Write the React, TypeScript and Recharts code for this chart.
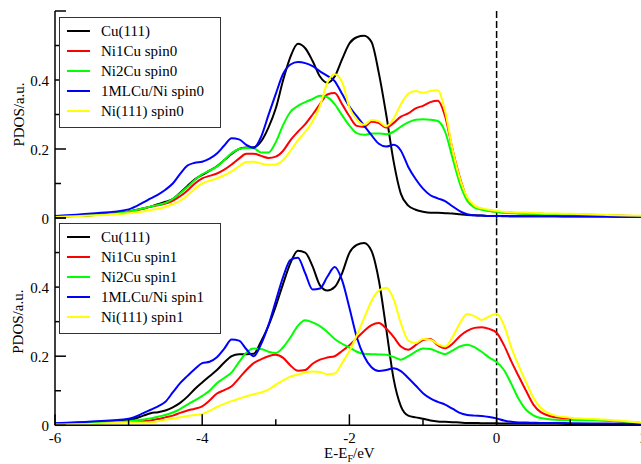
import { LineChart, Line, XAxis, YAxis, ReferenceLine, Legend } from 'recharts';

// energy grid (eV, relative to Fermi level)
const energy = [
  -6, -5.5, -5, -4.8, -4.7, -4.6, -4.5, -4.4, -4.3, -4.2,
  -4.1, -4, -3.9, -3.8, -3.7, -3.6, -3.5, -3.4, -3.3, -3.2,
  -3.1, -3, -2.9, -2.8, -2.7, -2.6, -2.5, -2.4, -2.3, -2.2,
  -2.1, -2, -1.9, -1.8, -1.7, -1.6, -1.5, -1.4, -1.3, -1.2,
  -1.1, -1, -0.9, -0.8, -0.7, -0.6, -0.5, -0.4, -0.3, -0.2,
  -0.1, 0, 0.1, 0.2, 0.3, 0.4, 0.5, 0.6, 0.8, 1,
  1.5, 2,
];

// spin0 panel
const cuUp = [
  0.004, 0.009, 0.019, 0.028, 0.033, 0.04, 0.047, 0.055, 0.073, 0.093,
  0.112, 0.125, 0.137, 0.15, 0.168, 0.186, 0.2, 0.204, 0.205, 0.222,
  0.262, 0.318, 0.4, 0.468, 0.505, 0.492, 0.455, 0.41, 0.392, 0.41,
  0.46, 0.506, 0.524, 0.528, 0.51, 0.42, 0.3, 0.165, 0.07, 0.036,
  0.024, 0.018, 0.015, 0.015, 0.014, 0.013, 0.011, 0.009, 0.008, 0.007,
  0.006, 0.006, 0.006, 0.005, 0.005, 0.005, 0.005, 0.005, 0.005, 0.004,
  0.004, 0.003,
];
const ni1Up = [
  0.004, 0.008, 0.018, 0.027, 0.033, 0.037, 0.042, 0.05, 0.063, 0.08,
  0.1, 0.115, 0.122, 0.129, 0.14, 0.155, 0.172, 0.186, 0.186, 0.18,
  0.174, 0.178, 0.195, 0.226, 0.25, 0.272, 0.3, 0.33, 0.358, 0.362,
  0.33, 0.295, 0.267, 0.264, 0.279, 0.275, 0.262, 0.275, 0.294, 0.303,
  0.318, 0.325, 0.336, 0.34, 0.295, 0.2, 0.118, 0.056, 0.033, 0.026,
  0.021, 0.018, 0.016, 0.015, 0.014, 0.013, 0.013, 0.012, 0.011, 0.01,
  0.008, 0.005,
];
const ni2Up = [
  0.004, 0.008, 0.018, 0.028, 0.033, 0.038, 0.044, 0.055, 0.072, 0.09,
  0.11, 0.127, 0.137, 0.149, 0.168, 0.188, 0.2, 0.203, 0.202, 0.19,
  0.19, 0.22, 0.27, 0.308, 0.325, 0.336, 0.345, 0.354, 0.35, 0.33,
  0.298, 0.268, 0.246, 0.241, 0.245, 0.245, 0.243, 0.25, 0.265, 0.277,
  0.285, 0.286, 0.285, 0.281, 0.25, 0.175, 0.1, 0.05, 0.03, 0.024,
  0.02, 0.018, 0.015, 0.014, 0.013, 0.012, 0.012, 0.011, 0.01, 0.009,
  0.007, 0.005,
];
const mlUp = [
  0.006, 0.013, 0.025, 0.045, 0.057, 0.068, 0.082, 0.1, 0.128, 0.152,
  0.16, 0.163, 0.172, 0.187, 0.21, 0.231, 0.228, 0.212, 0.203, 0.235,
  0.298, 0.36, 0.418, 0.445, 0.452, 0.449, 0.44, 0.425, 0.412, 0.397,
  0.36, 0.323, 0.295, 0.268, 0.24, 0.215, 0.207, 0.212, 0.195, 0.148,
  0.113, 0.085, 0.066, 0.057, 0.049, 0.034, 0.02, 0.011, 0.008, 0.007,
  0.006, 0.006, 0.005, 0.005, 0.005, 0.005, 0.005, 0.005, 0.005, 0.005,
  0.004, 0.003,
];
const niUp = [
  0.003, 0.007, 0.014, 0.019, 0.023, 0.027, 0.032, 0.04, 0.05, 0.065,
  0.085, 0.1, 0.108, 0.115, 0.124, 0.135, 0.15, 0.162, 0.163, 0.158,
  0.154, 0.155, 0.168, 0.195, 0.225, 0.25, 0.28, 0.325, 0.392, 0.417,
  0.395, 0.32, 0.285, 0.27, 0.284, 0.28, 0.266, 0.288, 0.33, 0.36,
  0.368, 0.363, 0.368, 0.37, 0.31, 0.2, 0.115, 0.06, 0.036, 0.028,
  0.024, 0.021, 0.018, 0.017, 0.016, 0.016, 0.015, 0.014, 0.013, 0.012,
  0.009, 0.006,
];

// spin1 panel
const cuDn = [
  0.005, 0.009, 0.015, 0.028, 0.035, 0.038, 0.043, 0.052, 0.065, 0.083,
  0.105, 0.124, 0.142, 0.16, 0.182, 0.2, 0.206, 0.206, 0.207, 0.243,
  0.288, 0.345, 0.41, 0.47, 0.505, 0.5, 0.46, 0.405, 0.39, 0.4,
  0.44, 0.499, 0.522, 0.528, 0.505, 0.42, 0.28, 0.135, 0.055, 0.028,
  0.023, 0.019, 0.014, 0.011, 0.01, 0.009, 0.008, 0.007, 0.007, 0.006,
  0.006, 0.006, 0.005, 0.005, 0.005, 0.005, 0.005, 0.005, 0.005, 0.004,
  0.004, 0.003,
];
const ni1Dn = [
  0.003, 0.006, 0.01, 0.012, 0.014, 0.018, 0.023, 0.028, 0.036, 0.043,
  0.048, 0.055, 0.072, 0.092, 0.102, 0.113, 0.136, 0.16, 0.18, 0.191,
  0.2, 0.204, 0.195, 0.173, 0.158, 0.16, 0.178, 0.19, 0.196, 0.2,
  0.215, 0.232, 0.252, 0.273, 0.29, 0.296, 0.28, 0.256, 0.228, 0.219,
  0.232, 0.247, 0.25, 0.232, 0.223, 0.236, 0.258, 0.273, 0.282, 0.284,
  0.279, 0.268, 0.232, 0.185, 0.142, 0.1, 0.06, 0.038, 0.023, 0.019,
  0.014, 0.006,
];
const ni2Dn = [
  0.004, 0.007, 0.012, 0.017, 0.02, 0.025, 0.03, 0.037, 0.047, 0.06,
  0.072, 0.085, 0.1, 0.122, 0.137, 0.153, 0.183, 0.21, 0.222, 0.221,
  0.213, 0.209, 0.226, 0.255, 0.288, 0.304, 0.298, 0.287, 0.27, 0.25,
  0.236, 0.225, 0.213, 0.207, 0.206, 0.205, 0.204, 0.198, 0.19, 0.2,
  0.213, 0.222, 0.221, 0.213, 0.206, 0.216, 0.228, 0.233, 0.226, 0.212,
  0.196, 0.183, 0.16, 0.12, 0.076, 0.045, 0.029, 0.021, 0.016, 0.015,
  0.013, 0.006,
];
const mlDn = [
  0.006, 0.011, 0.019, 0.035, 0.045, 0.055, 0.068, 0.095, 0.122, 0.143,
  0.163, 0.18, 0.184, 0.197, 0.222, 0.248, 0.245, 0.22, 0.2, 0.235,
  0.29, 0.36, 0.43, 0.479, 0.485, 0.44, 0.393, 0.396, 0.43, 0.458,
  0.42, 0.34, 0.255, 0.2, 0.168, 0.157, 0.16, 0.165, 0.157, 0.137,
  0.115, 0.093, 0.078, 0.068, 0.06, 0.048, 0.036, 0.03, 0.028, 0.027,
  0.024, 0.02, 0.014, 0.01, 0.008, 0.008, 0.0075, 0.007, 0.007, 0.006,
  0.005, 0.004,
];
const niDn = [
  0.002, 0.004, 0.008, 0.008, 0.009, 0.012, 0.016, 0.019, 0.023, 0.027,
  0.03, 0.033, 0.042, 0.053, 0.062, 0.07, 0.077, 0.084, 0.09, 0.095,
  0.103, 0.118, 0.13, 0.141, 0.147, 0.152, 0.156, 0.154, 0.148, 0.15,
  0.18, 0.215, 0.26, 0.31, 0.36, 0.39, 0.398, 0.365, 0.295, 0.245,
  0.238, 0.25, 0.248, 0.235, 0.228, 0.255, 0.295, 0.322, 0.316, 0.305,
  0.315, 0.323, 0.29, 0.225, 0.173, 0.125, 0.08, 0.05, 0.028, 0.022,
  0.016, 0.007,
];

const names0 = ['Cu(111)', 'Ni1Cu spin0', 'Ni2Cu spin0', '1MLCu/Ni spin0', 'Ni(111) spin0'];
const names1 = ['Cu(111)', 'Ni1Cu spin1', 'Ni2Cu spin1', '1MLCu/Ni spin1', 'Ni(111) spin1'];
const colors = ['#000000', '#ff0000', '#00ff00', '#0000ff', '#ffff00'];

const xTicks = [-6, -5, -4, -3, -2, -1, 0, 1, 2];
const yTicks = [0, 0.1, 0.2, 0.3, 0.4, 0.5, 0.6];

const FONT = '"Liberation Serif", "Times New Roman", Times, "DejaVu Serif", serif';
const AXIS = { stroke: '#000', strokeWidth: 1.5 };
const TXT = { fontFamily: FONT, fontSize: 15 };

function buildRows(series: number[][]) {
  return energy.map((e, i) => {
    const r: Record<string, number> = { e };
    series.forEach((s, k) => (r['s' + k] = s[i]));
    return r;
  });
}

// x ticks drawn inward; dir = -1 points up, +1 points down
const xTick = (dir: number, labels: boolean) => (props: any) => {
  const { x, y, payload } = props;
  const v = payload.value;
  const major = Math.round(v) % 2 === 0;
  return (
    <g>
      <line x1={x} x2={x} y1={y} y2={y + dir * (major ? 11 : 6)} stroke="#000" strokeWidth={1.5} />
      {labels && major ? (
        <text x={x} y={y + 18} textAnchor="middle" style={TXT} fill="#000">
          {v}
        </text>
      ) : null}
    </g>
  );
};

const yTick = (dir: number, labels: boolean) => (props: any) => {
  const { x, y, payload } = props;
  const v = payload.value;
  const major = Math.round(v * 10) % 2 === 0;
  return (
    <g>
      <line x1={x} x2={x + dir * (major ? 11 : 6)} y1={y} y2={y} stroke="#000" strokeWidth={1.5} />
      {labels && major && v < 0.55 ? (
        <text x={x - 6} y={y + 5.5} textAnchor="end" style={TXT} fill="#000">
          {v === 0 ? '0' : v.toFixed(1)}
        </text>
      ) : null}
    </g>
  );
};

function LegendBox({ names }: { names: string[] }) {
  return (
    <div
      style={{
        boxSizing: 'border-box',
        width: 162,
        height: 111,
        border: '1.5px solid #333',
        background: '#fff',
        paddingTop: 3,
      }}
    >
      {names.map((n, k) => (
        <div key={n} style={{ display: 'flex', alignItems: 'center', height: 20 }}>
          <svg width={30} height={20} style={{ display: 'block' }}>
            <line x1={7} x2={30} y1={10} y2={10} stroke={colors[k]} strokeWidth={2} />
          </svg>
          <span style={{ marginLeft: 11, fontFamily: FONT, fontSize: 15, lineHeight: '20px', color: '#000', whiteSpace: 'nowrap' }}>
            {n}
          </span>
        </div>
      ))}
    </div>
  );
}

const yTitle = (props: any) => {
  const vb = props.viewBox;
  const cy = vb.y + vb.height / 2;
  return (
    <text x={23.5} y={cy} transform={`rotate(-90, 23.5, ${cy})`} textAnchor="middle" style={TXT} fill="#000">
      PDOS/a.u.
    </text>
  );
};

const xTitle = (props: any) => {
  const vb = props.viewBox;
  return (
    <text x={vb.x + vb.width / 2} y={vb.y + 33} textAnchor="middle" style={TXT} fill="#000">
      E-E<tspan fontSize={10} dy={4}>F</tspan>
      <tspan dy={-4}>/eV</tspan>
    </text>
  );
};

interface PanelProps {
  series: number[][];
  names: string[];
  height: number;
  margin: { top: number; right: number; bottom: number; left: number };
  bottomAxisHeight: number;
  showXLabels: boolean;
  legendTop: number;
}

function Panel({ series, names, height, margin, bottomAxisHeight, showXLabels, legendTop }: PanelProps) {
  const data = buildRows(series);
  return (
    <LineChart width={700} height={height} data={data} margin={margin}>
      <XAxis
        dataKey="e"
        type="number"
        domain={[-6, 2]}
        ticks={xTicks}
        interval={0}
        allowDataOverflow
        height={bottomAxisHeight}
        axisLine={AXIS}
        tickLine={false}
        tickSize={0}
        tickMargin={0}
        tick={xTick(-1, showXLabels)}
        label={showXLabels ? xTitle : undefined}
      />
      <XAxis
        xAxisId="top"
        orientation="top"
        dataKey="e"
        type="number"
        domain={[-6, 2]}
        ticks={xTicks}
        interval={0}
        allowDataOverflow
        height={0}
        axisLine={AXIS}
        tickLine={false}
        tickSize={0}
        tickMargin={0}
        tick={xTick(1, false)}
      />
      <YAxis
        type="number"
        domain={[0, 0.6]}
        ticks={yTicks}
        interval={0}
        allowDataOverflow
        width={55}
        axisLine={AXIS}
        tickLine={false}
        tickSize={0}
        tickMargin={0}
        tick={yTick(1, true)}
        label={yTitle}
      />
      <YAxis
        yAxisId="r"
        orientation="right"
        type="number"
        domain={[0, 0.6]}
        ticks={yTicks}
        interval={0}
        allowDataOverflow
        width={0}
        axisLine={AXIS}
        tickLine={false}
        tickSize={0}
        tickMargin={0}
        tick={yTick(-1, false)}
      />
      <ReferenceLine x={0} stroke="#000" strokeWidth={1.5} strokeDasharray="7 3" />
      {series.map((_, k) => (
        <Line
          key={k}
          dataKey={'s' + k}
          name={names[k]}
          stroke={colors[k]}
          strokeWidth={2}
          type="monotone"
          dot={false}
          activeDot={false}
          isAnimationActive={false}
        />
      ))}
      <Legend
        layout="vertical"
        align="center"
        verticalAlign="middle"
        wrapperStyle={{ position: 'absolute', left: 59, top: legendTop, width: 162, height: 111 }}
        content={() => <LegendBox names={names} />}
      />
    </LineChart>
  );
}

export default function App() {
  return (
    <div style={{ position: 'absolute', left: 0, top: 0, width: 641, height: 464, overflow: 'hidden', background: '#fff' }}>
      <div style={{ position: 'absolute', left: 0, top: 0 }}>
        <Panel
          series={[cuUp, ni1Up, ni2Up, mlUp, niUp]}
          names={names0}
          height={232}
          margin={{ top: 11, right: 56.2, bottom: 14, left: 0 }}
          bottomAxisHeight={0}
          showXLabels={false}
          legendTop={17}
        />
      </div>
      <div style={{ position: 'absolute', left: 0, top: 200 }}>
        <Panel
          series={[cuDn, ni1Dn, ni2Dn, mlDn, niDn]}
          names={names1}
          height={264}
          margin={{ top: 18, right: 56.2, bottom: 0, left: 0 }}
          bottomAxisHeight={38.7}
          showXLabels={true}
          legendTop={22.7}
        />
      </div>
    </div>
  );
}
